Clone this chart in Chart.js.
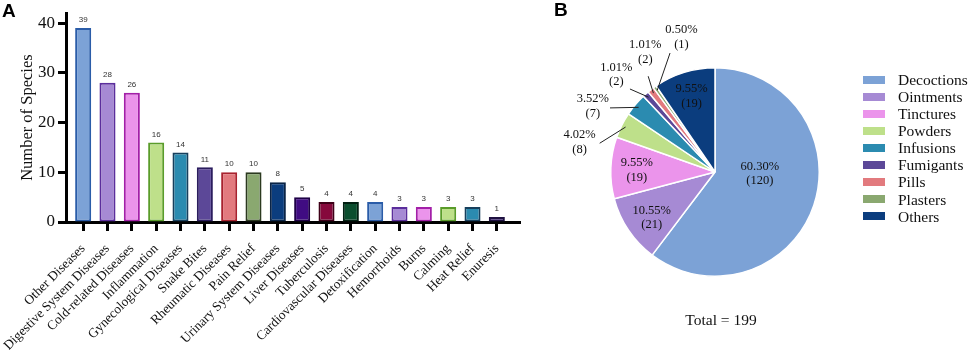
<!DOCTYPE html>
<html>
<head>
<meta charset="utf-8">
<script src="https://cdn.jsdelivr.net/npm/chart.js@4.4.1/dist/chart.umd.min.js"></script>
<style>
  html, body { margin: 0; padding: 0; background: #fff; }
  #wrap { position: relative; width: 969px; height: 350px; overflow: hidden; background: #fff; }
  #barBox { position: absolute; left: 0; top: 0; width: 540px; height: 350px; }
  #pieBox { position: absolute; left: 540px; top: 0; width: 330px; height: 350px; }
  .panel { position: absolute; font-family: "Liberation Sans", Arial, sans-serif; font-weight: bold; font-size: 19px; line-height: 19px; color: #000; }
  #legend { position: absolute; left: 863px; top: 71px; width: 110px; }
  .row { position: absolute; left: 0; height: 17px; width: 110px; }
  .sw { position: absolute; left: 0; top: 4.5px; width: 22px; height: 8px; }
  .lt { position: absolute; left: 35px; top: 0; line-height: 17px; font-family: "Liberation Serif", "Times New Roman", serif; font-size: 15.5px; color: #111; white-space: nowrap; }
  #total { position: absolute; left: 621px; top: 311px; width: 200px; text-align: center; line-height: 18px; font-family: "Liberation Serif", "Times New Roman", serif; font-size: 15.5px; color: #111; }
</style>
</head>
<body>
<div id="wrap">
  <div id="barBox"><canvas id="bar" width="540" height="350"></canvas></div>
  <div id="pieBox"><canvas id="pie" width="330" height="350"></canvas></div>
  <div class="panel" style="left:2px;top:1px;">A</div>
  <div class="panel" style="left:554px;top:0px;">B</div>
  <div id="legend"></div>
  <div id="total"></div>
</div>
<script>
// ---------- DATA ----------
const diseaseCategories = [
  "Other Diseases", "Digestive System Diseases", "Cold-related Diseases", "Inflammation",
  "Gynecological Diseases", "Snake Bites", "Rheumatic Diseases", "Pain Relief",
  "Urinary System Diseases", "Liver Diseases", "Tuberculosis", "Cardiovascular Diseases",
  "Detoxification", "Hemorrhoids", "Burns", "Calming", "Heat Relief", "Enuresis"
];
const speciesCounts = [39, 28, 26, 16, 14, 11, 10, 10, 8, 5, 4, 4, 4, 3, 3, 3, 3, 1];
const yTickValues = [0, 10, 20, 30, 40];

const formLabels = ["Decoctions", "Ointments", "Tinctures", "Powders", "Infusions", "Fumigants", "Pills", "Plasters", "Others"];
const formCounts = [120, 21, 19, 8, 7, 2, 2, 1, 19];
const formPercentLabels = ["60.30%", "10.55%", "9.55%", "4.02%", "3.52%", "1.01%", "1.01%", "0.50%", "9.55%"];
const totalLabel = "Total = 199";

// ---------- STYLES ----------
const barFill = ["#7CA2D6", "#A68AD4", "#EB94EB", "#BEE08A", "#2B8BB0", "#5C4898", "#E27A7E", "#8AA870",
  "#0B3D7E", "#400C82", "#86093C", "#0B4E2E", "#7CA2D6", "#A68AD4", "#EB94EB", "#BEE08A", "#2B8BB0", "#4A2E86"];
const barEdge = ["#2A5CA8", "#5B2E9C", "#A31FA8", "#5A9C2A", "#173F5C", "#2B1D5E", "#A8222E", "#2C3A20",
  "#0A2446", "#1E0046", "#3E0018", "#022012", "#2A5CA8", "#5B2E9C", "#A31FA8", "#5A9C2A", "#173F5C", "#1E1040"];
const pieFill = ["#7CA2D6", "#A68AD4", "#EB94EB", "#BEE08A", "#2B8BB0", "#5C4898", "#E27A7E", "#8AA870", "#0B3D7E"];

// label placement style for pie slices (angles in degrees, radii as fraction of pie radius)
const pieLabelStyle = [
  { type: "in", r: 0.43, da: -16.5 },
  { type: "in", r: 0.75, da: -2 },
  { type: "in", r: 0.75, da: -1 },
  { type: "out", la: 192.3, le: 194.0, re: 1.14 },
  { type: "out", la: 208.2, le: 211.4, re: 1.18 },
  { type: "out", la: 224.6, le: 224.3, re: 1.14 },
  { type: "out", la: 239.8, le: 235.1, re: 1.12 },
  { type: "out", la: 256.0, le: 249.3, re: 1.22 },
  { type: "in", r: 0.76, da: 0 }
];

const SERIF = '"Liberation Serif", "Times New Roman", serif';

// ---------- BAR CHART ----------
const categoryInset = {
  id: "categoryInset",
  afterLayout(chart) {
    const s = chart.scales.x;
    s._startPixel = s.left + 5;
    s._endPixel = s.right - 11;
    s._length = s._endPixel - s._startPixel;
  }
};
const barValueLabels = {
  id: "barValueLabels",
  afterDatasetsDraw(chart) {
    const ctx = chart.ctx;
    const meta = chart.getDatasetMeta(0);
    ctx.save();
    ctx.font = '8px "Liberation Sans", Arial, sans-serif';
    ctx.fillStyle = "#333";
    ctx.textAlign = "center";
    ctx.textBaseline = "middle";
    meta.data.forEach((el, i) => {
      ctx.fillText(String(chart.data.datasets[0].data[i]), el.x, el.y - 8);
    });
    ctx.restore();
  }
};

new Chart(document.getElementById("bar"), {
  type: "bar",
  data: {
    labels: diseaseCategories,
    datasets: [{
      data: speciesCounts,
      backgroundColor: barFill,
      borderColor: barEdge,
      borderWidth: 2,
      borderSkipped: false,
      barPercentage: 0.66,
      categoryPercentage: 1.0
    }]
  },
  options: {
    responsive: false,
    animation: false,
    layout: { padding: { top: 3, right: 20, left: 0, bottom: 0 } },
    plugins: { legend: { display: false }, tooltip: { enabled: false } },
    scales: {
      x: {
        z: 1,
        offset: true,
        afterFit(scale) { scale.height = 128; },
        grid: { display: true, offset: false, drawOnChartArea: false, drawTicks: true, tickLength: 9, tickWidth: 3, tickColor: "#000" },
        border: { display: true, color: "#000", width: 3 },
        ticks: {
          autoSkip: false, minRotation: 45, maxRotation: 45, padding: 10,
          color: "#111", font: { family: SERIF, size: 13.3 }
        }
      },
      y: {
        z: 1,
        min: 0, max: 42,
        afterFit(scale) { scale.width = 66; },
        afterBuildTicks(scale) { scale.ticks = yTickValues.map(v => ({ value: v })); },
        grid: { display: true, drawOnChartArea: false, drawTicks: true, tickLength: 8, tickWidth: 3, tickColor: "#000" },
        border: { display: true, color: "#000", width: 3 },
        ticks: { padding: 3, color: "#111", font: { family: SERIF, size: 17 } },
        title: { display: true, text: "Number of Species", color: "#111", font: { family: SERIF, size: 16.5 }, padding: { top: 18, bottom: 0 } }
      }
    }
  },
  plugins: [categoryInset, barValueLabels]
});

// ---------- PIE CHART ----------
const rad = d => d * Math.PI / 180;
const pieLabels = {
  id: "pieLabels",
  afterDatasetsDraw(chart) {
    const ctx = chart.ctx;
    const meta = chart.getDatasetMeta(0);
    ctx.save();
    ctx.font = '12.5px ' + SERIF;
    ctx.fillStyle = "#111";
    ctx.textAlign = "center";
    ctx.textBaseline = "middle";
    meta.data.forEach((arc, i) => {
      const p = arc.getProps(["x", "y", "startAngle", "endAngle", "outerRadius"], true);
      const R = p.outerRadius;
      const mid = (p.startAngle + p.endAngle) / 2;
      const st = pieLabelStyle[i];
      const text1 = formPercentLabels[i];
      const text2 = "(" + formCounts[i] + ")";
      let lx, ly;
      if (st.type === "in") {
        const a = mid + rad(st.da);
        lx = p.x + Math.cos(a) * R * st.r;
        ly = p.y + Math.sin(a) * R * st.r;
      } else {
        const la = rad(st.la), le = rad(st.le);
        lx = p.x + Math.cos(la) * R * 1.33;
        ly = p.y + Math.sin(la) * R * 1.33;
        ctx.beginPath();
        ctx.strokeStyle = "#222";
        ctx.lineWidth = 1;
        ctx.moveTo(p.x + Math.cos(mid) * R * 0.96, p.y + Math.sin(mid) * R * 0.96);
        ctx.lineTo(p.x + Math.cos(le) * R * st.re, p.y + Math.sin(le) * R * st.re);
        ctx.stroke();
      }
      ctx.fillText(text1, lx, ly - 7.3);
      ctx.fillText(text2, lx, ly + 7.3);
    });
    ctx.restore();
  }
};

new Chart(document.getElementById("pie"), {
  type: "pie",
  data: {
    labels: formLabels,
    datasets: [{
      data: formCounts,
      backgroundColor: pieFill,
      borderColor: "#fff",
      borderWidth: 1.5
    }]
  },
  options: {
    responsive: false,
    animation: false,
    layout: { padding: { left: 70, right: 50, top: 67, bottom: 73 } },
    plugins: { legend: { display: false }, tooltip: { enabled: false } }
  },
  plugins: [pieLabels]
});

// ---------- HTML LEGEND & TOTAL ----------
const legend = document.getElementById("legend");
formLabels.forEach((lab, i) => {
  const row = document.createElement("div");
  row.className = "row";
  row.style.top = (i * 17.08) + "px";
  const sw = document.createElement("div");
  sw.className = "sw";
  sw.style.background = pieFill[i];
  const t = document.createElement("div");
  t.className = "lt";
  t.textContent = lab;
  row.appendChild(sw); row.appendChild(t);
  legend.appendChild(row);
});
document.getElementById("total").textContent = totalLabel;
</script>
</body>
</html>
